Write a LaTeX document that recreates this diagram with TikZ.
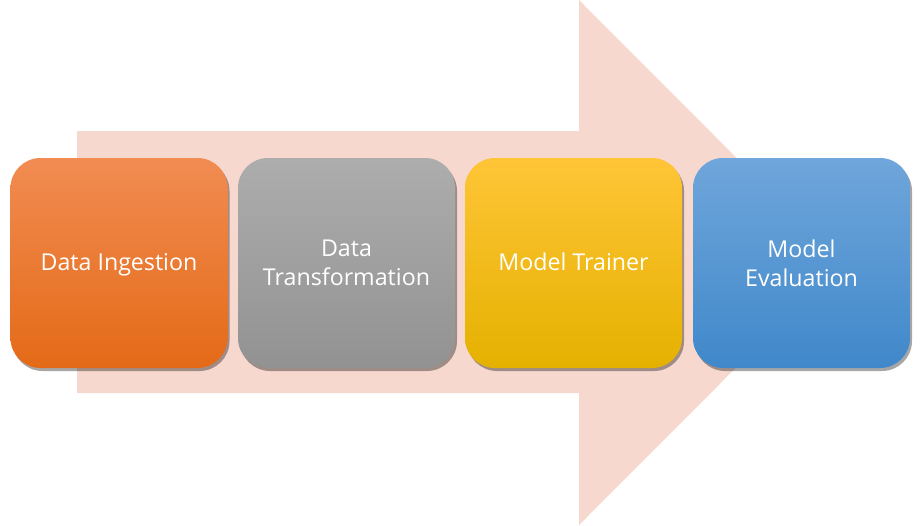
\documentclass[tikz,border=0pt]{standalone}
\usepackage{fontspec}
\setmainfont{Open Sans}
\usetikzlibrary{shadows}
\definecolor{arrowfill}{HTML}{F7D8CE}
\definecolor{orTop}{HTML}{F18C52}
\definecolor{orBot}{HTML}{E46A17}
\definecolor{grTop}{HTML}{ADADAD}
\definecolor{grBot}{HTML}{929292}
\definecolor{yeTop}{HTML}{FFC537}
\definecolor{yeBot}{HTML}{E5B100}
\definecolor{blTop}{HTML}{6FA6DB}
\definecolor{blBot}{HTML}{4088CA}
\tikzset{
  stage/.style={rounded corners=30pt, minimum width=217pt, minimum height=210pt,
    inner sep=0pt, align=center, text=white,
    font=\fontsize{23.2}{29}\selectfont,
    drop shadow={shadow xshift=2pt, shadow yshift=-3pt, opacity=0.35, fill=black}},
  oneline/.style={text height=17pt, text depth=2pt},
}
\begin{document}
\begin{tikzpicture}[x=1pt,y=-1pt]
\useasboundingbox (0,0) rectangle (920,525);
\fill[arrowfill] (77,131) -- (579,131) -- (579,0) -- (841,262.5) -- (579,525) -- (579,393) -- (77,393) -- cycle;
\node[stage, oneline, top color=orTop, bottom color=orBot] (ingest) at (119,263) {Data Ingestion};
\node[stage, top color=grTop, bottom color=grBot] (transform) at (346.5,263) {Data\\Transformation};
\node[stage, oneline, top color=yeTop, bottom color=yeBot] (trainer) at (573.5,263) {Model Trainer};
\node[stage, top color=blTop, bottom color=blBot] (eval) at (801.5,263) {Model\\Evaluation};
\end{tikzpicture}
\end{document}
